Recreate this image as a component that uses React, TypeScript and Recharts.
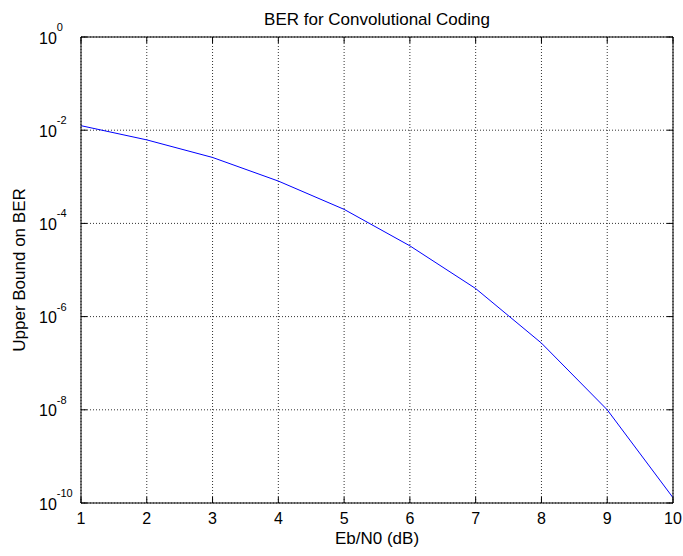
import { CartesianGrid, Label, Line, LineChart, XAxis, YAxis } from "recharts";

const ebn0 = [1, 2, 3, 4, 5, 6, 7, 8, 9, 10];
const berBound = [1.25e-2, 6.2e-3, 2.6e-3, 8.1e-4, 2.0e-4, 3.3e-5, 4.0e-6, 2.7e-7, 1.0e-8, 1.3e-10];
const xTicks = [1, 2, 3, 4, 5, 6, 7, 8, 9, 10];
const yTicks = [1, 1e-2, 1e-4, 1e-6, 1e-8, 1e-10];

const data = ebn0.map((x, i) => ({ ebn0: x, ber: berBound[i] }));

const FONT = "'Liberation Sans', Arial, sans-serif";
const TICK_LEN = 6;

function BottomTick({ x, y, payload }: any) {
  return (
    <g>
      <line x1={x} x2={x} y1={y} y2={y - TICK_LEN} stroke="#000" />
      <text x={x} y={y + 21} textAnchor="middle" fontSize={16} fontFamily={FONT} fill="#000">
        {payload.value}
      </text>
    </g>
  );
}

function TopTick({ x, y }: any) {
  return <line x1={x} x2={x} y1={y} y2={y + TICK_LEN} stroke="#000" />;
}

function LeftTick({ x, y, payload }: any) {
  const exp = Math.round(Math.log10(payload.value));
  return (
    <g>
      <line x1={x} x2={x + TICK_LEN} y1={y} y2={y} stroke="#000" />
      <text x={x - 42} y={y + 6.5} fontSize={16} fontFamily={FONT} fill="#000">
        10
        <tspan dy={-12.5} fontSize={11}>
          {String(exp)}
        </tspan>
      </text>
    </g>
  );
}

function RightTick({ x, y }: any) {
  return <line x1={x} x2={x - TICK_LEN} y1={y} y2={y} stroke="#000" />;
}

export default function App() {
  return (
    <div style={{ position: "absolute", left: 0, top: 0, width: 683, height: 556, background: "#fff" }}>
      <LineChart width={683} height={556} data={data} margin={{ top: 36, right: 9, bottom: 3, left: 11 }}>
        <CartesianGrid stroke="#333" strokeDasharray="1 2" />
        <XAxis
          dataKey="ebn0"
          type="number"
          domain={[1, 10]}
          ticks={xTicks}
          allowDataOverflow
          height={50}
          tickSize={0}
          tickMargin={0}
          tickLine={false}
          axisLine={{ stroke: "#000" }}
          tick={<BottomTick />}
          interval={0}
        >
          <Label value="Eb/N0 (dB)" position="insideBottom" offset={9} fontSize={17} fontFamily={FONT} fill="#000" />
        </XAxis>
        <XAxis
          xAxisId="top"
          orientation="top"
          dataKey="ebn0"
          type="number"
          domain={[1, 10]}
          ticks={xTicks}
          allowDataOverflow
          height={1}
          tickSize={0}
          tickMargin={0}
          tickLine={false}
          axisLine={{ stroke: "#000" }}
          tick={<TopTick />}
          interval={0}
        >
          <Label value="BER for Convolutional Coding" position="top" offset={11} fontSize={17} fontFamily={FONT} fill="#000" />
        </XAxis>
        <YAxis
          scale="log"
          type="number"
          domain={[1e-10, 1]}
          ticks={yTicks}
          allowDataOverflow
          width={70}
          tickSize={0}
          tickMargin={0}
          tickLine={false}
          axisLine={{ stroke: "#000" }}
          tick={<LeftTick />}
          interval={0}
        >
          <Label
            value="Upper Bound on BER"
            angle={-90}
            position="insideLeft"
            offset={8}
            fontSize={17}
            fontFamily={FONT}
            fill="#000"
            style={{ textAnchor: "middle" }}
          />
        </YAxis>
        <YAxis
          yAxisId="right"
          orientation="right"
          scale="log"
          type="number"
          domain={[1e-10, 1]}
          ticks={yTicks}
          allowDataOverflow
          width={1}
          tickSize={0}
          tickMargin={0}
          tickLine={false}
          axisLine={{ stroke: "#000" }}
          tick={<RightTick />}
          interval={0}
        />
        <Line
          xAxisId="top"
          yAxisId="right"
          type="linear"
          dataKey="ber"
          stroke="none"
          dot={false}
          legendType="none"
          isAnimationActive={false}
        />
        <Line
          type="linear"
          dataKey="ber"
          stroke="#0000ff"
          strokeWidth={1}
          dot={false}
          isAnimationActive={false}
        />
      </LineChart>
    </div>
  );
}
